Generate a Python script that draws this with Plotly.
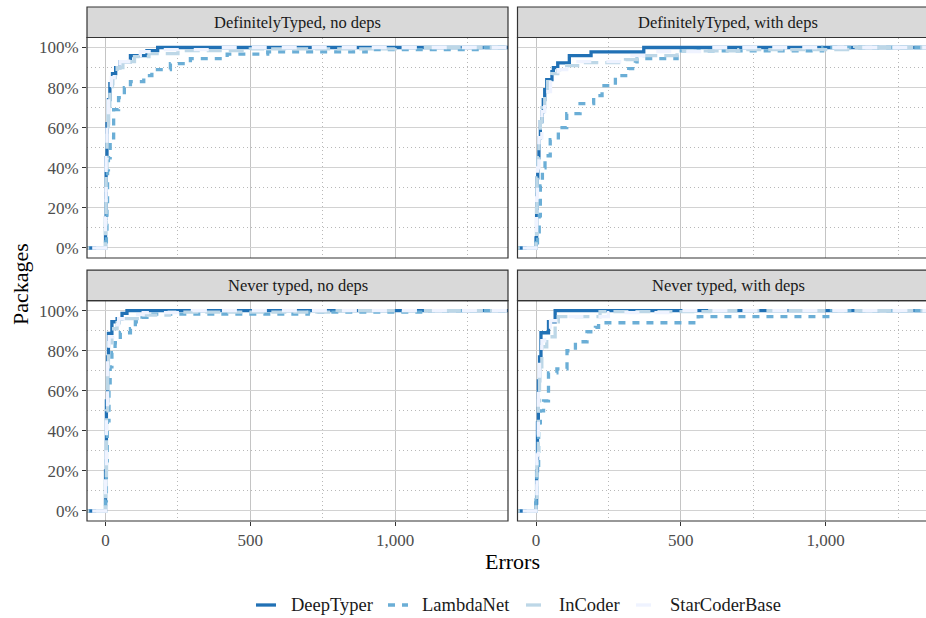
import plotly.graph_objects as go

W, H = 926, 618

# ---------------- data (ECDF steps: errors -> % of packages) ----------------
tools = ["DeepTyper", "LambdaNet", "InCoder", "StarCoderBase"]
panel_titles = ["DefinitelyTyped, no deps", "DefinitelyTyped, with deps",
                "Never typed, no deps", "Never typed, with deps"]

# DefinitelyTyped, no deps
dtn_deeptyper_x = [0, 2, 5, 10, 15, 24, 35, 50, 86, 143, 180]
dtn_deeptyper_y = [15, 45, 62, 74, 82, 87, 90, 93, 96, 98.5, 100]
dtn_lambdanet_x = [0, 3, 5, 7, 10, 16, 28, 45, 65, 86, 132, 160, 224, 293, 420, 560, 900, 1311]
dtn_lambdanet_y = [3, 8, 20, 39, 45, 55, 69, 75, 80, 83, 86, 89, 92, 94.5, 96.7, 97.8, 99, 100]
dtn_incoder_x = [0, 2, 5, 10, 15, 24, 40, 60, 100, 150, 250, 500, 1000]
dtn_incoder_y = [12, 40, 58, 70, 79, 85, 90, 93, 95.5, 97, 98.5, 99.3, 100]
dtn_starcoder_x = [0, 2, 5, 10, 20, 30, 50, 80, 120, 200, 400]
dtn_starcoder_y = [15, 45, 62, 75, 85, 90, 93, 96, 98, 99, 100]

# DefinitelyTyped, with deps
dtw_deeptyper_x = [0, 2, 4, 6, 10, 15, 20, 25, 30, 37, 55, 60, 75, 115, 190, 372]
dtw_deeptyper_y = [5, 20, 35, 45, 55, 63, 68, 74, 79, 84, 88, 90, 92.3, 96, 97.8, 100]
dtw_lambdanet_x = [0, 5, 11, 15, 22, 31, 49, 77, 106, 152, 199, 228, 274, 320, 343, 349, 487, 990]
dtw_lambdanet_y = [2.6, 8, 16, 31, 40, 46, 54, 60, 67, 72, 76, 81, 86, 89.5, 92.8, 94.5, 98.3, 100]
dtw_incoder_x = [0, 2, 4, 6, 10, 15, 20, 30, 40, 54, 75, 106, 165, 309, 349, 487, 700, 1100]
dtw_incoder_y = [5, 20, 35, 45, 55, 63, 70, 78, 83, 87, 89, 91, 92.5, 94, 96, 98.3, 99, 100]
dtw_starcoder_x = [0, 2, 5, 10, 20, 30, 50, 77, 106, 304, 400, 600]
dtw_starcoder_y = [8, 25, 40, 55, 68, 78, 85, 89, 93, 96, 98, 100]

# Never typed, no deps
ntn_deeptyper_x = [0, 3, 7, 10, 22, 40, 57, 74]
ntn_deeptyper_y = [20, 55, 77, 88.7, 94.5, 96, 98.7, 100]
ntn_lambdanet_x = [0, 3, 6, 12, 16, 22, 33, 51, 86, 103, 126, 143, 700, 1100]
ntn_lambdanet_y = [5, 25, 45, 64, 72, 79, 84, 89, 91, 94.5, 96.7, 98.3, 99.3, 100]
ntn_incoder_x = [0, 3, 7, 10, 22, 40, 60, 120, 220, 800]
ntn_incoder_y = [15, 50, 72, 84, 91, 94, 96, 97.8, 99.3, 100]
ntn_starcoder_x = [0, 3, 7, 12, 25, 45, 70, 130, 300]
ntn_starcoder_y = [18, 52, 75, 87, 93, 96, 98, 99, 100]

# Never typed, with deps
ntw_deeptyper_x = [0, 2, 5, 8, 12, 17, 43, 66]
ntw_deeptyper_y = [4, 20, 44, 65, 77, 89, 94.5, 100]
ntw_lambdanet_x = [0, 3, 9, 15, 26, 43, 72, 107, 136, 176, 205, 216, 560, 1020]
ntw_lambdanet_y = [5.5, 20, 44, 50, 55, 69, 71, 80, 84.5, 89.5, 91.7, 94, 97, 100]
ntw_incoder_x = [0, 3, 8, 12, 20, 37, 66, 77, 221, 600]
ntw_incoder_y = [4, 25, 55, 72, 82, 87, 94.5, 97, 99.5, 100]
ntw_starcoder_x = [0, 3, 8, 12, 20, 30, 50, 100, 250, 500]
ntw_starcoder_y = [4, 28, 60, 76, 85, 90, 95, 97, 99, 100]

x_ticks = [0, 500, 1000]
x_tick_labels = ["0", "500", "1,000"]
y_ticks = [0, 20, 40, 60, 80, 100]
y_tick_labels = ["0%", "20%", "40%", "60%", "80%", "100%"]

panel_data = [
    [(dtn_deeptyper_x, dtn_deeptyper_y), (dtn_lambdanet_x, dtn_lambdanet_y),
     (dtn_incoder_x, dtn_incoder_y), (dtn_starcoder_x, dtn_starcoder_y)],
    [(dtw_deeptyper_x, dtw_deeptyper_y), (dtw_lambdanet_x, dtw_lambdanet_y),
     (dtw_incoder_x, dtw_incoder_y), (dtw_starcoder_x, dtw_starcoder_y)],
    [(ntn_deeptyper_x, ntn_deeptyper_y), (ntn_lambdanet_x, ntn_lambdanet_y),
     (ntn_incoder_x, ntn_incoder_y), (ntn_starcoder_x, ntn_starcoder_y)],
    [(ntw_deeptyper_x, ntw_deeptyper_y), (ntw_lambdanet_x, ntw_lambdanet_y),
     (ntw_incoder_x, ntw_incoder_y), (ntw_starcoder_x, ntw_starcoder_y)],
]

# ---------------- styles ----------------
colors = {"DeepTyper": "#2171b5", "LambdaNet": "#6baed6",
          "InCoder": "#bdd7e7", "StarCoderBase": "#eff3ff"}
dashes = {"DeepTyper": "solid", "LambdaNet": "7px,7px",
          "InCoder": "15px,7px", "StarCoderBase": "15px,15px"}
LW = 3.3
FONT = "Liberation Serif"
TICKFONT = dict(family=FONT, size=17, color="#4d4d4d")

def fx(p):
    return p / W

def fy(p):
    return 1 - p / H

UPX = 3.453  # data units per pixel
XMIN = -64
PANEL_W = 421
left_x = (87, 508)
right_x = (517.5, 926)
top_y = (37.5, 258)
bot_y = (300.7, 521)

boxes = [(left_x, top_y), (right_x, top_y), (left_x, bot_y), (right_x, bot_y)]

fig = go.Figure()

for i, panel in enumerate(panel_data):
    ax = "" if i == 0 else str(i + 1)
    xr = (XMIN, XMIN + (boxes[i][0][1] - boxes[i][0][0]) * UPX)
    for t, (xs, ys) in zip(tools, panel):
        fig.add_trace(go.Scatter(
            x=[xr[0] - 500] + list(xs) + [xr[1] + 500],
            y=[0] + list(ys) + [ys[-1]],
            mode="lines", line_shape="hv",
            line=dict(color=colors[t], width=LW, dash=dashes[t]),
            xaxis="x" + ax, yaxis="y" + ax, showlegend=False, name=t,
            hoverinfo="skip"))

fig.update_layout(width=W, height=H, margin=dict(l=0, r=0, t=0, b=0),
                  paper_bgcolor="white", plot_bgcolor="white",
                  font=dict(family=FONT, color="#1a1a1a"), showlegend=False)

shapes = []
annotations = []
for i, ((x0, x1), (y0, y1)) in enumerate(boxes):
    ax = "" if i == 0 else str(i + 1)
    bottom = i >= 2
    left = i % 2 == 0
    xr = [XMIN, XMIN + (x1 - x0) * UPX]
    xa = go.layout.XAxis(
        domain=[fx(x0), fx(x1)], range=xr, anchor="y" + ax,
        tickmode="array", tickvals=x_ticks, ticktext=x_tick_labels,
        showgrid=True, gridcolor="#c4c4c4", gridwidth=1,
        zeroline=False, showline=False,
        minor=dict(tickmode="array", tickvals=[250, 750, 1250], showgrid=True,
                   griddash="1px,3px", gridcolor="#b8b8b8", gridwidth=1),
        ticks="outside" if bottom else "", ticklen=4, tickcolor="#333333",
        showticklabels=bottom, tickfont=TICKFONT)
    ya = go.layout.YAxis(
        domain=[fy(y1), fy(y0)], range=[-5, 105], anchor="x" + ax,
        tickmode="array", tickvals=y_ticks, ticktext=y_tick_labels,
        showgrid=True, gridcolor="#d2d2d2", gridwidth=1.4,
        zeroline=False, showline=False,
        minor=dict(tickmode="array", tickvals=[10, 30, 50, 70, 90], showgrid=True,
                   griddash="1px,3px", gridcolor="#b8b8b8", gridwidth=1),
        ticks="outside" if left else "", ticklen=4, tickcolor="#333333",
        showticklabels=left, tickfont=TICKFONT)
    fig.update_layout({"xaxis" + ax: xa, "yaxis" + ax: ya})
    # panel border
    xe = x1 if x1 < W else W + 20
    shapes.append(dict(type="rect", xref="paper", yref="paper",
                       x0=fx(x0), x1=fx(xe), y0=fy(y1), y1=fy(y0),
                       line=dict(color="#333333", width=1.2),
                       fillcolor="rgba(0,0,0,0)", layer="above"))
    # strip
    s0 = y0 - 30.5
    shapes.append(dict(type="rect", xref="paper", yref="paper",
                       x0=fx(x0), x1=fx(xe), y0=fy(y0), y1=fy(s0),
                       line=dict(color="#333333", width=1.2),
                       fillcolor="#d9d9d9", layer="above"))
    cx = (x0 + x0 + PANEL_W) / 2
    annotations.append(dict(text=panel_titles[i], xref="paper", yref="paper",
                            x=fx(cx), y=fy((y0 + s0) / 2), showarrow=False,
                            xanchor="center", yanchor="middle",
                            font=dict(family=FONT, size=16.5, color="#1a1a1a")))

# axis titles
annotations.append(dict(text="Errors", xref="paper", yref="paper",
                        x=fx(512.5), y=fy(561), showarrow=False,
                        xanchor="center", yanchor="middle",
                        font=dict(family=FONT, size=22, color="#000000")))
annotations.append(dict(text="Packages", xref="paper", yref="paper",
                        x=fx(20), y=fy(284), showarrow=False, textangle=-90,
                        xanchor="center", yanchor="middle",
                        font=dict(family=FONT, size=22, color="#000000")))

# manual legend
leg_sym = {"DeepTyper": 256, "LambdaNet": 388, "InCoder": 526, "StarCoderBase": 636}
leg_txt = {"DeepTyper": 289, "LambdaNet": 420, "InCoder": 557, "StarCoderBase": 668}
LEG_Y = 605
for t in tools:
    shapes.append(dict(type="line", xref="paper", yref="paper",
                       x0=fx(leg_sym[t]), x1=fx(leg_sym[t] + 20),
                       y0=fy(LEG_Y), y1=fy(LEG_Y),
                       line=dict(color=colors[t], width=LW, dash=dashes[t])))
    annotations.append(dict(text=t, xref="paper", yref="paper",
                            x=fx(leg_txt[t]), y=fy(LEG_Y), showarrow=False,
                            xanchor="left", yanchor="middle",
                            font=dict(family=FONT, size=18.5, color="#1a1a1a")))

fig.update_layout(shapes=shapes, annotations=annotations)
fig.write_html("out.html")
